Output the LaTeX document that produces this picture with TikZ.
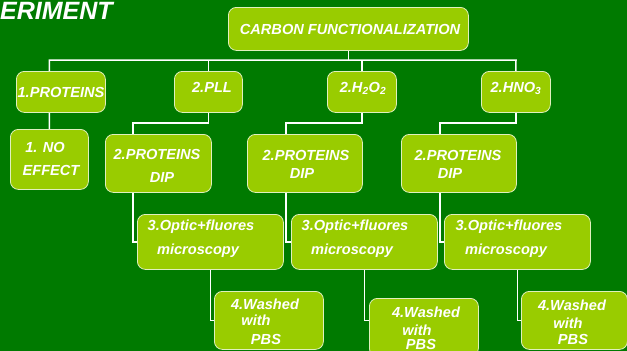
\documentclass[tikz,border=0pt]{standalone}
\usepackage{fontspec}
\setmainfont{Liberation Sans}
\usetikzlibrary{backgrounds}

\definecolor{bggreen}{RGB}{0,122,0}
\definecolor{boxgreen}{RGB}{153,204,0}
\definecolor{boxedge}{RGB}{224,240,190}

\tikzset{
  box/.style={draw=boxedge, line width=0.8pt, fill=boxgreen, rounded corners=8pt,
    anchor=north west, inner sep=0pt},
  txt/.style={anchor=base, inner sep=0pt, text=white,
    font=\fontsize{14.6pt}{16pt}\selectfont\bfseries\itshape},
  conn/.style={draw=white, line width=1.5pt}
}

\begin{document}
\begin{tikzpicture}[x=1pt,y=-1pt]
  \useasboundingbox (0,0) rectangle (627,351);
  \begin{scope}[on background layer]
    \fill[bggreen] (0,0) rectangle (627,351);
  \end{scope}
  \node[anchor=base west, inner sep=0pt, text=white,
    font=\fontsize{25pt}{28pt}\selectfont\bfseries\itshape] (title) at (0,19) {ERIMENT};

  \node[box, minimum width=240pt, minimum height=43pt] (carbon) at (228,7) {};
  \node[box, minimum width=89pt, minimum height=41pt] (prot1) at (16,71) {};
  \node[box, minimum width=68pt, minimum height=41pt] (pll) at (174,71) {};
  \node[box, minimum width=69pt, minimum height=41pt] (h2o2) at (327,71) {};
  \node[box, minimum width=69pt, minimum height=41pt] (hno3) at (481,71) {};
  \node[box, minimum width=78pt, minimum height=60pt] (noeff) at (10,129) {};
  \node[box, minimum width=106pt, minimum height=58pt] (dip1) at (105,134) {};
  \node[box, minimum width=115pt, minimum height=58pt] (dip2) at (247,134) {};
  \node[box, minimum width=115pt, minimum height=58pt] (dip3) at (401,134) {};
  \node[box, minimum width=146pt, minimum height=55pt] (optic1) at (137,214) {};
  \node[box, minimum width=146pt, minimum height=55pt] (optic2) at (291,214) {};
  \node[box, minimum width=146pt, minimum height=55pt] (optic3) at (444,214) {};
  \node[box, minimum width=109pt, minimum height=58pt] (wash1) at (214,291) {};
  \node[box, minimum width=109pt, minimum height=58pt] (wash2) at (369,298) {};
  \node[box, minimum width=106pt, minimum height=58pt] (wash3) at (521,291) {};

  \node[txt] (carbon-t) at (350,34) {CARBON FUNCTIONALIZATION};
  \node[txt] (prot1-t) at (61,97) {1.PROTEINS};
  \node[txt] (pll-t) at (212,92) {2.PLL};
  \node[txt] (h2o2-t) at (363,92) {2.H\textsubscript{2}O\textsubscript{2}};
  \node[txt] (hno3-t) at (516,92) {2.HNO\textsubscript{3}};
  \node[txt] (noeff-t1) at (45,152) {1. NO};
  \node[txt] (noeff-t2) at (51,175) {EFFECT};
  \node[txt] (dip1-t1) at (157,159) {2.PROTEINS};
  \node[txt] (dip1-t2) at (162,182) {DIP};
  \node[txt] (dip2-t1) at (306,160) {2.PROTEINS};
  \node[txt] (dip2-t2) at (302,178) {DIP};
  \node[txt] (dip3-t1) at (458,160) {2.PROTEINS};
  \node[txt] (dip3-t2) at (450,178) {DIP};
  \node[txt] (optic1-t1) at (201,230) {3.Optic+fluores};
  \node[txt] (optic1-t2) at (198,254) {microscopy};
  \node[txt] (optic2-t1) at (355,230) {3.Optic+fluores};
  \node[txt] (optic2-t2) at (352,254) {microscopy};
  \node[txt] (optic3-t1) at (509,230) {3.Optic+fluores};
  \node[txt] (optic3-t2) at (506,254) {microscopy};
  \node[txt] (wash1-t1) at (265,309) {4.Washed};
  \node[txt] (wash1-t2) at (256,325) {with};
  \node[txt] (wash1-t3) at (266,344) {PBS};
  \node[txt] (wash2-t1) at (426,317) {4.Washed};
  \node[txt] (wash2-t2) at (417,335) {with};
  \node[txt] (wash2-t3) at (421,349) {PBS};
  \node[txt] (wash3-t1) at (572,310) {4.Washed};
  \node[txt] (wash3-t2) at (568,328) {with};
  \node[txt] (wash3-t3) at (573,344) {PBS};

  \coordinate (bus) at (516,60);
  \coordinate (j1) at (133,123);
  \coordinate (j2) at (286,123);
  \coordinate (j3) at (440,123);
  \begin{scope}[on background layer]
    \draw[conn] (carbon.south) -- (carbon.south |- bus);
    \draw[conn] (noeff.north) |- (bus) -- (hno3.north);
    \draw[conn] (pll.north) -- (pll.north |- bus);
    \draw[conn] (h2o2.north) -- (h2o2.north |- bus);
    \draw[conn] (pll.south) |- (j1) |- (optic1.west);
    \draw[conn] (h2o2.south) |- (j2) |- (optic2.west);
    \draw[conn] (hno3.south) |- (j3) |- (optic3.west);
    \draw[conn] (optic1.south) |- (wash1.west);
    \draw[conn] (optic2.south) |- ([yshift=7pt]wash2.west);
    \draw[conn] (optic3.south) |- (wash3.west);
  \end{scope}
\end{tikzpicture}
\end{document}
